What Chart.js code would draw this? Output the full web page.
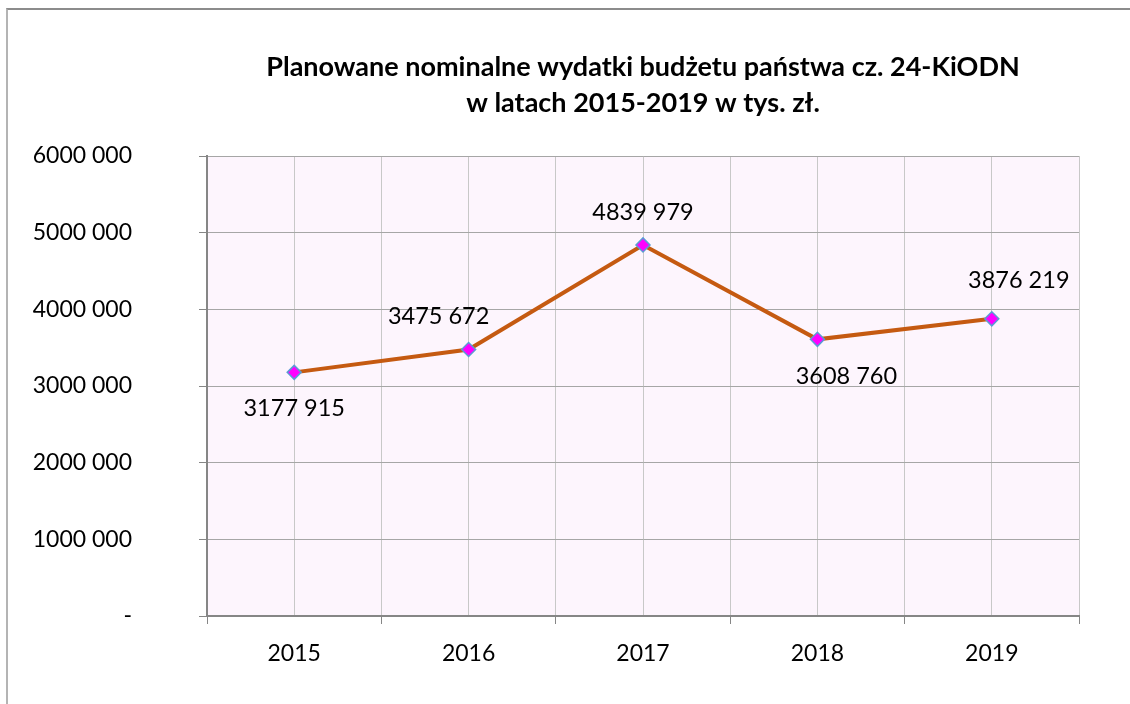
<!DOCTYPE html>
<html>
<head>
<meta charset="utf-8">
<script src="https://cdn.jsdelivr.net/npm/chart.js@4"></script>
<style>
  body { margin: 0; background: #fff; }
  #frame { position: absolute; left: 6px; top: 8px; width: 1200px; height: 800px;
           border-left: 2px solid #b4b4b4; border-top: 2px solid #8c8c8c; }
  #wrap { position: absolute; left: 0; top: 0; width: 1130px; height: 704px; }
</style>
</head>
<body>
<div id="frame"></div>
<div id="wrap"><canvas id="budgetChart"></canvas></div>
<script>
// dane z wykresu (tys. zł)
const years = ['2015', '2016', '2017', '2018', '2019'];
const expenses = [3177915, 3475672, 4839979, 3608760, 3876219];
const yMin = 0;
const yMax = 6000000;
const yStep = 1000000;
const titleLines = ['Planowane nominalne wydatki budżetu państwa cz. 24-KiODN', 'w latach 2015-2019 w tys. zł.'];

const fontFamily = 'Lato, "Open Sans", sans-serif';

// "3177 915" - tylko ostatnia grupa oddzielona spacją
function fmt(v) {
    if (v === 0) return '-';
    const th = Math.floor(v / 1000);
    const rest = String(v % 1000).padStart(3, '0');
    return th + ' ' + rest;
}

const plotBackground = {
    id: 'plotBackground',
    beforeDraw(chart, args, opts) {
        const { ctx, chartArea: a } = chart;
        ctx.save();
        ctx.fillStyle = opts.color;
        ctx.fillRect(a.left, a.top, a.width, a.height);
        ctx.restore();
    }
};

const valueLabels = {
    id: 'valueLabels',
    afterDatasetsDraw(chart, args, opts) {
        const ctx = chart.ctx;
        const meta = chart.getDatasetMeta(0);
        const data = chart.data.datasets[0].data;
        ctx.save();
        ctx.font = opts.font;
        ctx.fillStyle = opts.color;
        ctx.textAlign = 'center';
        ctx.textBaseline = 'middle';
        meta.data.forEach((pt, i) => {
            const [dx, dy] = opts.offsets[i];
            ctx.fillText(fmt(data[i]), pt.x + dx, pt.y + dy);
        });
        ctx.restore();
    }
};

const ctx = document.getElementById('budgetChart').getContext('2d');
new Chart(ctx, {
    type: 'line',
    data: {
        labels: years,
        datasets: [{
            data: expenses,
            borderColor: '#c55a11',
            borderWidth: 4,
            tension: 0,
            pointStyle: 'rectRot',
            pointRadius: 7,
            pointBackgroundColor: '#ff00ff',
            pointBorderColor: '#5b9bd5',
            pointBorderWidth: 1.5
        }]
    },
    options: {
        responsive: true,
        maintainAspectRatio: false,
        animation: false,
        layout: {
            padding: { left: 0, right: 51, top: 0, bottom: 0 }
        },
        plugins: {
            legend: { display: false },
            tooltip: { enabled: false },
            title: {
                display: true,
                fullSize: false,
                text: titleLines,
                color: '#000',
                font: { family: fontFamily, size: 27, weight: 'bold', lineHeight: 36 / 27 },
                padding: { top: 49, bottom: 35 }
            },
            plotBackground: { color: '#fdf5fd' },
            valueLabels: {
                font: '23.5px ' + fontFamily,
                color: '#000',
                offsets: [[0, 36], [-30, -33], [0, -33], [29, 37], [27, -38]]
            }
        },
        scales: {
            x: {
                offset: true,
                grid: { offset: true, color: '#c8c8c8', tickLength: 8, tickColor: '#868686' },
                border: { color: '#868686', width: 2 },
                ticks: { color: '#000', font: { family: fontFamily, size: 23 }, padding: 16 },
                afterFit(s) { s.height = 88; }
            },
            xMid: {
                type: 'category',
                position: 'top',
                offset: true,
                grid: { offset: false, color: '#c8c8c8', drawTicks: false },
                border: { display: false },
                ticks: { display: false },
                afterFit(s) { s.height = 0; }
            },
            y: {
                min: yMin,
                max: yMax,
                ticks: {
                    stepSize: yStep,
                    callback: fmt,
                    color: '#000',
                    font: { family: fontFamily, size: 23 },
                    padding: 67
                },
                grid: { color: '#a6a6a6', tickLength: 8, tickColor: '#868686' },
                border: { color: '#868686', width: 2 },
                afterFit(s) { s.width = 207; }
            }
        }
    },
    plugins: [plotBackground, valueLabels]
});
</script>
</body>
</html>
